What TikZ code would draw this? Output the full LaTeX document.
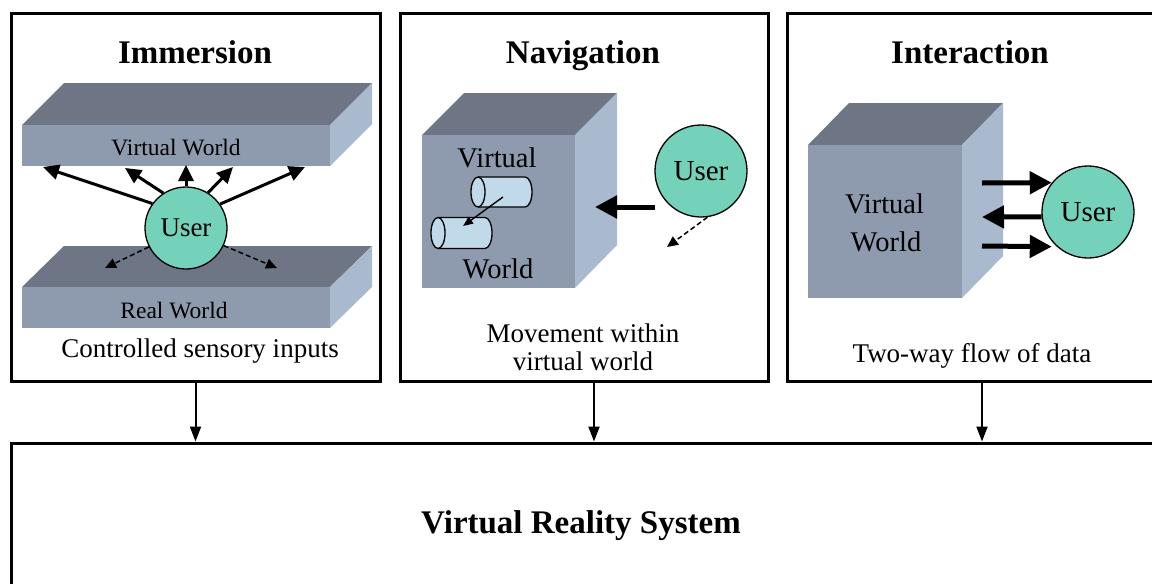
\documentclass[tikz,border=0pt]{standalone}
\usepackage{fontspec}
\setmainfont{Liberation Serif}
\usetikzlibrary{arrows.meta}
\definecolor{cubetop}{HTML}{6E7686}
\definecolor{cubefront}{HTML}{8E9BAE}
\definecolor{cubeside}{HTML}{A9BACE}
\definecolor{userfill}{HTML}{74D2BA}
\definecolor{cylfill}{HTML}{C0DAEA}
\begin{document}
\begin{tikzpicture}[x=1pt,y=-1pt,
  panel/.style={draw, line width=3pt, inner sep=0pt, fill=white},
  titletext/.style={font=\fontsize{33}{36}\selectfont\bfseries, anchor=base, inner sep=0pt},
  captext/.style={font=\fontsize{27}{28}\selectfont, anchor=base, inner sep=0pt},
  slabtext/.style={font=\fontsize{23.5}{25}\selectfont, anchor=base, inner sep=0pt},
  cubetext/.style={font=\fontsize{28.5}{30}\selectfont, anchor=base, inner sep=0pt},
  usernode/.style={circle, draw, line width=1.3pt, fill=userfill, inner sep=0pt, minimum size=92pt, font=\fontsize{29}{30}\selectfont},
  downarrow/.style={line width=2pt, -{Triangle[length=15pt,width=11pt]}},
  midarrow/.style={line width=3pt, -{Triangle[length=16pt,width=15pt]}},
  bigarrow/.style={line width=5pt, -{Triangle[length=22pt,width=22pt]}},
  dasharrow/.style={line width=1.5pt, dash pattern=on 5pt off 3pt, -{Triangle[length=11pt,width=10pt]}},
  cylarrow/.style={line width=1.4pt, -{Triangle[length=10pt,width=8pt]}},
  cyl/.style={fill=cylfill, draw=black, line width=1.3pt}
]
\useasboundingbox (0,0) rectangle (1152,584);
\fill[white] (0,0) rectangle (1152,584);

% panels
\node[panel, minimum width=369pt, minimum height=368pt] (P1) at (195.5,197) {};
\node[panel, minimum width=368pt, minimum height=368pt] (P2) at (584,197) {};
\node[panel, minimum width=371pt, minimum height=368pt] (P3) at (972.5,197) {};
\node[panel, minimum width=1149pt, minimum height=157pt] (VR) at (585.5,521.5) {};
\node[titletext] (VRt) at (581,533) {Virtual Reality System};

% down arrows
\draw[downarrow] (P1.south) -- (P1.south |- VR.north);
\draw[downarrow] ([xshift=10pt]P2.south) -- ([xshift=10pt]P2.south |- VR.north);
\draw[downarrow] ([xshift=9.5pt]P3.south) -- ([xshift=9.5pt]P3.south |- VR.north);

% ---------- Immersion ----------
\node[titletext] (T1) at (195,63) {Immersion};
% top slab
\fill[cubetop] (22,125) -- (330,125) -- (372,83) -- (64,83) -- cycle;
\fill[cubefront] (22,125) rectangle (330,166);
\fill[cubeside] (330,125) -- (372,83) -- (372,124) -- (330,166) -- cycle;
\node[slabtext] (VW1) at (176,155) {Virtual World};
% bottom slab
\fill[cubetop] (22,287) -- (330,287) -- (372,246) -- (64,246) -- cycle;
\fill[cubefront] (22,287) rectangle (330,328);
\fill[cubeside] (330,287) -- (372,246) -- (372,287) -- (330,328) -- cycle;
\node[slabtext] (RW1) at (174,318) {Real World};
\node[usernode, minimum size=82pt, font=\fontsize{27}{28}\selectfont] (U1) at (186,228) {User};
\coordinate (a1) at (43,167);
\coordinate (a2) at (125,168);
\coordinate (a3) at (186,165);
\coordinate (a4) at (233,167);
\coordinate (a5) at (305,167);
\draw[midarrow] (U1.144) -- (a1);
\draw[midarrow] (U1.123) -- (a2);
\draw[midarrow] (U1.90) -- (a3);
\draw[midarrow] (U1.58) -- (a4);
\draw[midarrow] (U1.35) -- (a5);
\coordinate (d1) at (105,268);
\coordinate (d2) at (277,268);
\draw[dasharrow] (U1.207) -- (d1);
\draw[dasharrow] (U1.335) -- (d2);
\node[captext] (C1) at (200,357) {Controlled sensory inputs};

% ---------- Navigation ----------
\node[titletext] (T2) at (583,63) {Navigation};
\fill[cubetop] (422,135) -- (575,135) -- (617,93) -- (464,93) -- cycle;
\fill[cubefront] (422,135) rectangle (575,288);
\fill[cubeside] (575,135) -- (617,93) -- (617,245) -- (575,288) -- cycle;
\node[cubetext] (NV) at (497,167) {Virtual};
\node[cubetext] (NW) at (498,278) {World};
% cylinders
\filldraw[cyl] (478,177) -- (525,177) arc[start angle=-90, end angle=90, x radius=7, y radius=15] -- (478,207);
\filldraw[cyl] (478,192) ellipse[x radius=7, y radius=15];
\filldraw[cyl] (438,217.5) -- (485,217.5) arc[start angle=-90, end angle=90, x radius=7, y radius=15.5] -- (438,248.5);
\filldraw[cyl] (438,233) ellipse[x radius=7, y radius=15.5];
\coordinate (cy1) at (503,197);
\coordinate (cy2) at (463,226);
\draw[cylarrow] (cy1) -- (cy2);
\node[usernode] (U2) at (701,171) {User};
\coordinate (n1) at (655,207);
\coordinate (n2) at (595,207);
\draw[bigarrow] (n1) -- (n2);
\coordinate (n3) at (667,247);
\draw[dasharrow] (U2.278) -- (n3);
\node[captext] (C2a) at (583,342) {Movement within};
\node[captext] (C2b) at (583,370) {virtual world};

% ---------- Interaction ----------
\node[titletext] (T3) at (970,63) {Interaction};
\fill[cubetop] (808,145) -- (962,145) -- (1003,103) -- (849,103) -- cycle;
\fill[cubefront] (808,145) rectangle (962,298);
\fill[cubeside] (962,145) -- (1003,103) -- (1003,256) -- (962,298) -- cycle;
\node[cubetext] (IV) at (884.5,213) {Virtual};
\node[cubetext] (IW) at (886,251) {World};
\node[usernode] (U3) at (1088,212) {User};
\coordinate (i1) at (982,183);
\coordinate (i2) at (982,217);
\coordinate (i3) at (982,246);
\draw[bigarrow] (i1) -- (U3.141);
\draw[bigarrow] (U3.186) -- (i2);
\draw[bigarrow] (i3) -- ([xshift=-5pt]U3.228);
\node[captext] (C3) at (972,362) {Two-way flow of data};
\end{tikzpicture}
\end{document}
